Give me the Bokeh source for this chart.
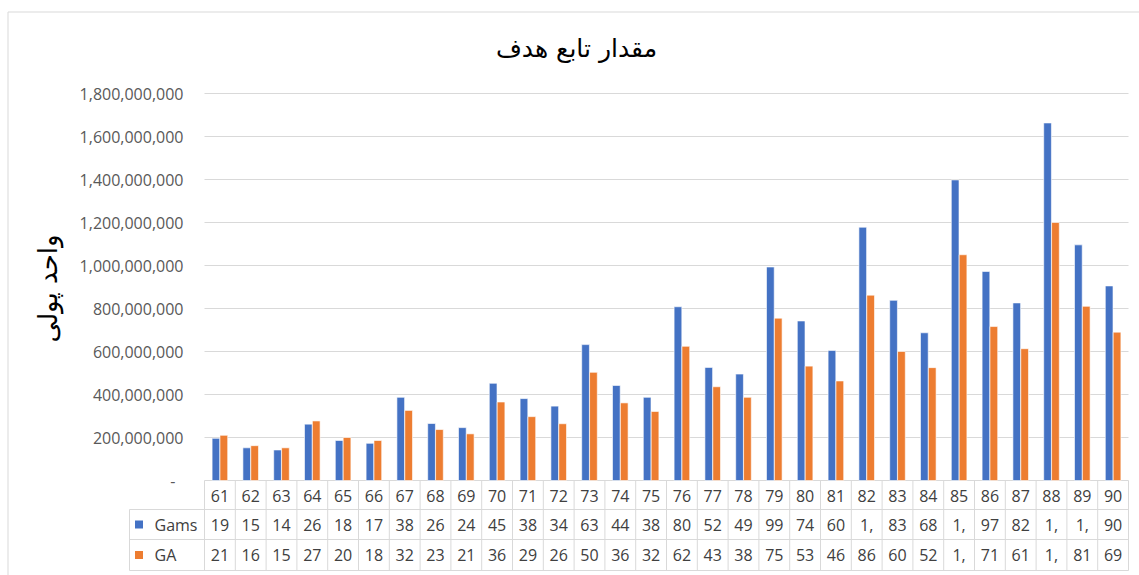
import math
from bokeh.plotting import figure
from bokeh.models import Range1d, ColumnDataSource
from bokeh.embed import file_html
from bokeh.resources import INLINE
from bokeh.core.properties import value

# ---------------- data ----------------
categories = [str(i) for i in range(61, 91)]
gams = [196_000_000, 152_000_000, 142_000_000, 262_000_000, 186_000_000, 173_000_000,
        387_000_000, 265_000_000, 246_000_000, 452_000_000, 381_000_000, 346_000_000,
        632_000_000, 442_000_000, 387_000_000, 808_000_000, 526_000_000, 495_000_000,
        993_000_000, 742_000_000, 605_000_000, 1_178_000_000, 838_000_000, 687_000_000,
        1_398_000_000, 972_000_000, 826_000_000, 1_663_000_000, 1_096_000_000, 905_000_000]
ga = [210_000_000, 162_000_000, 152_000_000, 277_000_000, 200_000_000, 186_000_000,
      326_000_000, 237_000_000, 217_000_000, 365_000_000, 297_000_000, 264_000_000,
      503_000_000, 361_000_000, 321_000_000, 624_000_000, 436_000_000, 387_000_000,
      755_000_000, 532_000_000, 463_000_000, 862_000_000, 600_000_000, 525_000_000,
      1_050_000_000, 716_000_000, 613_000_000, 1_200_000_000, 810_000_000, 690_000_000]
series_names = ["Gams", "GA"]
y_ticks = [0, 200_000_000, 400_000_000, 600_000_000, 800_000_000, 1_000_000_000,
           1_200_000_000, 1_400_000_000, 1_600_000_000, 1_800_000_000]
title_text = "مقدار تابع هدف"
y_label = "واحد پولی"

BLUE = "#4472C4"
ORANGE = "#ED7D31"
GRID = "#D9D9D9"
TXT = "#404040"
TICK = "#595959"
FONT = "Open Sans"
AR_FONT = "DejaVu Sans"

# ---------------- geometry (page pixels) ----------------
W, H = 1139, 575
PL, PR = 204, 1128          # plot area left / right
TOP, ZERO = 93, 480         # y of top tick and of value 0
n = len(categories)
COL = (PR - PL) / n         # px per category
PX = y_ticks[-1] / (ZERO - TOP)   # data units per vertical pixel
BAR_W = 0.25
OFF = 0.128


def ux(xp):
    return (xp - PL) / COL


def vy(yp):
    return (ZERO - yp) * PX


xpos = [i + 0.5 for i in range(n)]
src = ColumnDataSource(dict(cat=categories, gams=gams, ga=ga,
                            xg=[v - OFF for v in xpos], xa=[v + OFF for v in xpos]))

p = figure(width=W, height=H, x_range=Range1d(ux(0), ux(W)), y_range=Range1d(vy(H), vy(0)),
           output_backend="svg", toolbar_location=None,
           min_border_left=0, min_border_right=0, min_border_top=0, min_border_bottom=0)
p.xaxis.visible = False
p.yaxis.visible = False
p.grid.visible = False
p.outline_line_color = None
p.background_fill_color = "white"
p.border_fill_color = "white"

# outer chart border (top and left)
p.segment(x0=[ux(7.5), ux(7.5)], y0=[vy(11.5), vy(11.5)], x1=[ux(W + 5), ux(7.5)],
          y1=[vy(11.5), vy(H + 5)], line_color=GRID, line_width=1)

# horizontal value gridlines
p.segment(x0=[0] * len(y_ticks), y0=y_ticks, x1=[n] * len(y_ticks), y1=y_ticks,
          line_color=GRID, line_width=1)

# y tick labels
tick_labels = ["-\u2002" if t == 0 else f"{t:,}" for t in y_ticks]
p.text(x=[ux(183)] * len(y_ticks), y=y_ticks, text=tick_labels, text_align="right",
       text_baseline="middle", text_font=value(FONT), text_font_size="16px",
       text_color=TICK)

# bars
p.vbar(x="xg", top="gams", width=BAR_W, source=src, fill_color=BLUE,
       line_color="white", line_width=0.6)
p.vbar(x="xa", top="ga", width=BAR_W, source=src, fill_color=ORANGE,
       line_color="white", line_width=0.6)

# title and y-axis title
p.text(x=[ux(576)], y=[vy(48)], text=[title_text], text_align="center",
       text_baseline="middle", text_font=value(AR_FONT), text_font_size="25px",
       text_color="#000000")
p.text(x=[ux(47)], y=[vy(288)], text=[y_label], angle=math.pi / 2, text_align="center",
       text_baseline="middle", text_font=value(AR_FONT), text_font_size="26px",
       text_color="#000000")

# ---------------- data table ----------------
rows = [480, 509, 539, 570]
LEG = ux(129)
p.segment(x0=[LEG] * 3, y0=[vy(r) for r in rows[1:]], x1=[n] * 3, y1=[vy(r) for r in rows[1:]],
          line_color=GRID, line_width=1)
xs = list(range(n + 1))
p.segment(x0=xs, y0=[vy(rows[0])] * len(xs), x1=xs, y1=[vy(rows[3])] * len(xs),
          line_color=GRID, line_width=1)
p.segment(x0=[LEG], y0=[vy(rows[1])], x1=[LEG], y1=[vy(rows[3])],
          line_color=GRID, line_width=1)


def short(v):
    # the data table cells are too narrow and show only the first two characters
    return f"{v:,}"[:2]


for texts, yp in [(categories, 495), ([short(v) for v in gams], 524),
                  ([short(v) for v in ga], 554.5)]:
    p.text(x=xpos, y=[vy(yp)] * n, text=texts, text_align="center",
           text_baseline="middle", text_font=value(FONT), text_font_size="16px",
           text_color=TXT)

p.scatter(x=[ux(138.5)] * 2, y=[vy(524), vy(554.5)], marker="square", size=8,
          fill_color=[BLUE, ORANGE], line_color=None)
p.text(x=[ux(154)] * 2, y=[vy(524), vy(554.5)], text=series_names, text_align="left",
       text_baseline="middle", text_font=value(FONT), text_font_size="16px",
       text_color=TXT)

open("out.html", "w").write(file_html(p, INLINE))
